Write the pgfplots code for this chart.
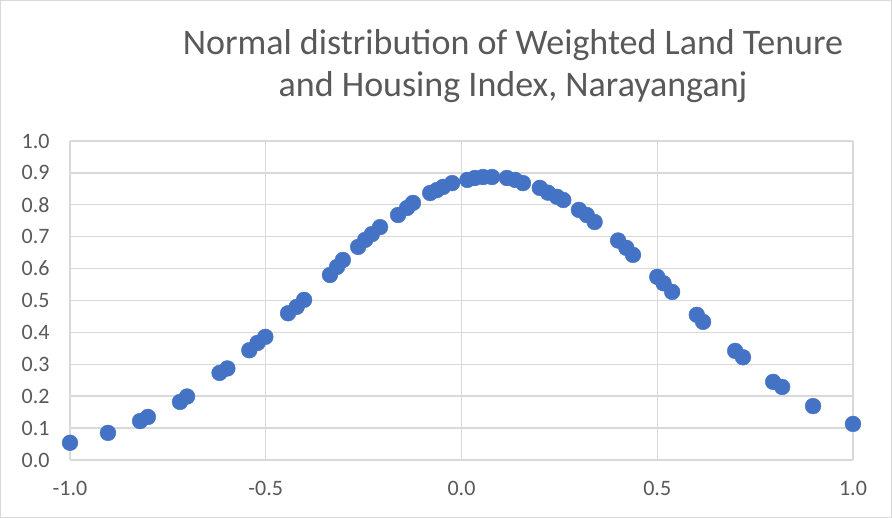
\documentclass[border=0pt]{standalone}
\usepackage{pgfplots}
\pgfplotsset{compat=1.18}
\usepackage{fontspec}
\setmainfont{Carlito}
\definecolor{mkblue}{HTML}{4472C4}
\definecolor{txtgray}{HTML}{595959}
\definecolor{gridgray}{HTML}{D9D9D9}
\definecolor{axgray}{HTML}{BFBFBF}
\begin{document}
\begin{tikzpicture}[x=1pt,y=1pt]
\draw[color=gridgray, line width=1.2pt, fill=white] (0.6,0.6) rectangle (891.4,517.4);
\node[text=txtgray, font=\fontsize{36}{42}\selectfont, align=center] at (513,452)
  {Normal distribution of Weighted Land Tenure\\and Housing Index, Narayanganj};
\begin{axis}[
  at={(70pt,58pt)}, anchor=south west,
  scale only axis, width=783pt, height=319pt,
  xmin=-1, xmax=1, ymin=0, ymax=1,
  xtick={-1,-0.5,0,0.5,1}, ytick={0,0.1,...,1.0},
  /pgf/number format/fixed, /pgf/number format/fixed zerofill,
  /pgf/number format/precision=1,
  /pgf/number format/assume math mode=true,
  tick label style={font=\fontsize{22}{26}\selectfont, text=txtgray},
  xticklabel style={yshift=-18pt},
  yticklabel style={xshift=-17pt},
  grid=major, major grid style={gridgray, line width=1.4pt},
  axis line style={draw=none},
  major tick length=0pt,
  clip=false,
  extra x ticks={0}, extra x tick labels={},
  extra x tick style={grid style={axgray, line width=2.8pt}},
]
\addplot[only marks, mark=*, mark size=7.9pt, mkblue, mark options={draw=mkblue, fill=mkblue}] coordinates {
(-1.000,0.054) (-0.903,0.085) (-0.821,0.122) (-0.801,0.135)
(-0.719,0.182) (-0.701,0.199) (-0.618,0.273) (-0.598,0.287)
(-0.542,0.344) (-0.521,0.367) (-0.501,0.386)
(-0.443,0.460) (-0.421,0.480) (-0.402,0.502)
(-0.336,0.580) (-0.318,0.605) (-0.303,0.627)
(-0.264,0.668) (-0.246,0.690) (-0.229,0.708) (-0.208,0.730)
(-0.162,0.768) (-0.139,0.790) (-0.124,0.806)
(-0.080,0.837) (-0.063,0.846) (-0.047,0.856) (-0.024,0.868)
(0.015,0.878) (0.034,0.884) (0.055,0.887) (0.078,0.887)
(0.116,0.884) (0.137,0.878) (0.157,0.868)
(0.200,0.853) (0.221,0.838) (0.244,0.825) (0.260,0.815)
(0.300,0.784) (0.320,0.768) (0.340,0.746)
(0.400,0.688) (0.421,0.665) (0.438,0.643)
(0.500,0.574) (0.516,0.554) (0.538,0.527)
(0.601,0.455) (0.617,0.433)
(0.699,0.342) (0.719,0.322)
(0.796,0.245) (0.819,0.229)
(0.898,0.169) (1.000,0.113)
};
\end{axis}
\end{tikzpicture}
\end{document}
